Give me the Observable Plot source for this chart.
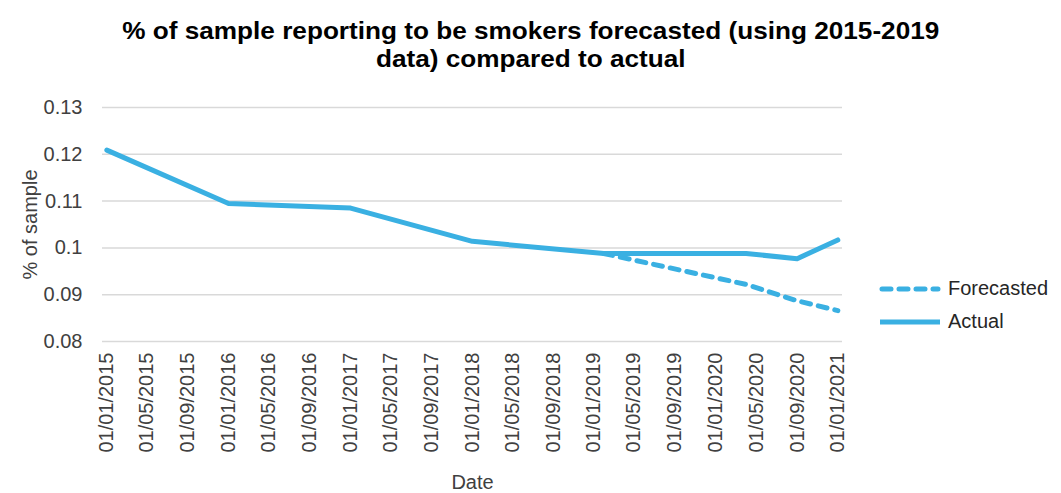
<!DOCTYPE html>
<html>
<head>
<meta charset="utf-8">
<script src="https://cdn.jsdelivr.net/npm/d3@7"></script>
<script src="https://cdn.jsdelivr.net/npm/@observablehq/plot@0.6"></script>
<style>
  html, body { margin: 0; padding: 0; background: #fff; }
  #wrap { position: relative; width: 1061px; height: 493px; font-family: "Liberation Sans", Arial, sans-serif; color: #404040; }
  #title { position: absolute; left: 0; top: 17px; width: 1061px; text-align: center; font-weight: bold; font-size: 24px; line-height: 28px; color: #000; }
  #title span { display: inline-block; transform: scaleX(1.09); transform-origin: center; }
  #chart { position: absolute; left: 0; top: 90px; }
  .leg { position: absolute; left: 878px; display: flex; align-items: center; font-size: 20px; color: #262626; }
  .leg svg { margin-right: 6px; }
</style>
</head>
<body>
<div id="wrap">
  <div id="title"><span>% of sample reporting to be smokers forecasted (using 2015-2019<br>data) compared to actual</span></div>
  <div id="chart"></div>
  <div class="leg" style="top:277px"><svg width="64" height="12"><line x1="4" y1="6" x2="60" y2="6" stroke="#3AB0E2" stroke-width="5" stroke-dasharray="9,8" stroke-linecap="round"/></svg>Forecasted</div>
  <div class="leg" style="top:310px"><svg width="64" height="12"><line x1="2" y1="6" x2="62" y2="6" stroke="#3AB0E2" stroke-width="5"/></svg>Actual</div>
</div>
<script>
const dates = ["2015-01-01","2016-01-01","2017-01-01","2018-01-01","2019-01-30","2020-04-01","2020-09-01","2021-01-01"];
const actual = [0.1209, 0.1095, 0.1085, 0.1014, 0.0988, 0.0988, 0.0977, 0.1017];
const forecastDates = ["2019-01-30","2020-04-01","2020-09-01","2021-01-01"];
const forecasted = [0.0988, 0.0922, 0.0887, 0.0866];
const tickDates = ["2015-01-01","2015-05-01","2015-09-01","2016-01-01","2016-05-01","2016-09-01","2017-01-01","2017-05-01","2017-09-01","2018-01-01","2018-05-01","2018-09-01","2019-01-01","2019-05-01","2019-09-01","2020-01-01","2020-05-01","2020-09-01","2021-01-01"];
const yTicks = [0.08, 0.09, 0.10, 0.11, 0.12, 0.13];

const actualData = dates.map((d, i) => ({date: new Date(d), value: actual[i]}));
const forecastData = forecastDates.map((d, i) => ({date: new Date(d), value: forecasted[i]}));
const color = "#3AB0E2";
const fmt = d3.utcFormat("%d/%m/%Y");

const chart = Plot.plot({
  width: 1061,
  height: 403,
  marginTop: 17,
  marginBottom: 152,
  marginLeft: 102,
  marginRight: 219,
  style: {fontFamily: "Liberation Sans, Arial, sans-serif", fontSize: "20px", color: "#404040", background: "transparent"},
  x: {type: "utc", domain: [new Date("2014-12-19"), new Date("2021-01-15")]},
  y: {domain: [0.08, 0.13]},
  marks: [
    Plot.gridY(yTicks, {stroke: "#d9d9d9", strokeOpacity: 1, strokeWidth: 1.5}),
    Plot.axisY(yTicks, {tickSize: 0, tickPadding: 20, tickFormat: d => String(+d.toFixed(2)), label: "% of sample", labelAnchor: "center", labelArrow: "none", labelOffset: 80, fontSize: 20}),
    Plot.axisX(tickDates.map(d => new Date(d)), {tickSize: 0, tickPadding: 11, tickRotate: -90, tickFormat: fmt, label: "Date", labelAnchor: "center", labelArrow: "none", labelOffset: 147, fontSize: 20}),
    Plot.line(forecastData, {x: "date", y: "value", stroke: color, strokeWidth: 5, strokeDasharray: "9,8", strokeLinecap: "round"}),
    Plot.line(actualData, {x: "date", y: "value", stroke: color, strokeWidth: 5, strokeLinejoin: "round"})
  ]
});
document.getElementById("chart").append(chart);
</script>
</body>
</html>
